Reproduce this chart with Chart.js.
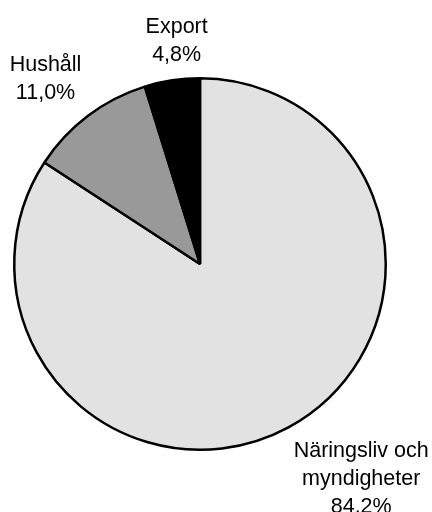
<!DOCTYPE html>
<html>
<head>
<meta charset="utf-8">
<script src="https://cdn.jsdelivr.net/npm/chart.js@4/dist/chart.umd.min.js"></script>
<style>
  html, body { margin: 0; padding: 0; background: #ffffff; }
  #wrap { width: 432px; height: 512px; position: relative; }
</style>
</head>
<body>
<div id="wrap"><canvas id="c" width="432" height="512"></canvas></div>
<script>
// ---- Data ----
const categories = [["Näringsliv och", "myndigheter"], ["Hushåll"], ["Export"]];
const shares = [84.2, 11.0, 4.8];
const sliceColors = ["#e2e2e2", "#999999", "#000000"];

// ---- Outside labels plugin ----
const outsideLabels = {
  id: 'outsideLabels',
  afterDatasetsDraw(chart) {
    const ctx = chart.ctx;
    const meta = chart.getDatasetMeta(0);
    const fontSize = 21.5;
    const lineH = 28;
    const gap = 11;
    ctx.save();
    ctx.font = fontSize + 'px "Liberation Sans", Arial, sans-serif';
    ctx.fillStyle = '#000000';
    ctx.textAlign = 'center';
    ctx.textBaseline = 'middle';
    meta.data.forEach((arc, i) => {
      const p = arc.getProps(['x', 'y', 'startAngle', 'endAngle', 'outerRadius'], true);
      const mid = (p.startAngle + p.endAngle) / 2;
      const dx = Math.cos(mid), dy = Math.sin(mid);
      const px = p.x + dx * (p.outerRadius + gap);
      const py = p.y + dy * (p.outerRadius + gap);
      const lines = categories[i].concat([shares[i].toFixed(1).replace('.', ',') + '%']);
      const w = Math.max(...lines.map(l => ctx.measureText(l).width));
      const h = lines.length * lineH;
      let cx, cy;
      if (Math.abs(dx) < 0.3) cx = px + w * 0.1; else cx = px + Math.sign(dx) * w / 2;
      if (Math.abs(dy) < 0.3) cy = py; else cy = py + Math.sign(dy) * h / 2;
      const top = cy - h / 2;
      lines.forEach((l, k) => {
        ctx.fillText(l, cx, top + lineH * (k + 0.5));
      });
    });
    ctx.restore();
  }
};

new Chart(document.getElementById('c'), {
  type: 'pie',
  data: {
    labels: categories.map(c => c.join(' ')),
    datasets: [{
      data: shares,
      backgroundColor: sliceColors,
      borderColor: '#000000',
      borderWidth: 2.5,
      hoverOffset: 0
    }]
  },
  options: {
    responsive: false,
    animation: false,
    layout: { padding: { left: 13, right: 45, top: 77, bottom: 61 } },
    plugins: {
      legend: { display: false },
      tooltip: { enabled: false }
    }
  },
  plugins: [outsideLabels]
});
</script>
</body>
</html>
